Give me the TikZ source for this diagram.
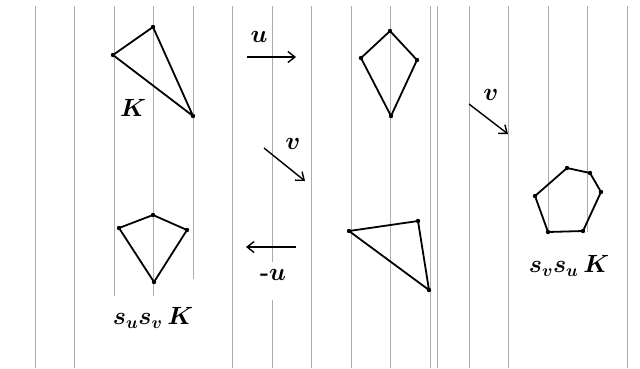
\documentclass[tikz,border=0pt]{standalone}
\usetikzlibrary{arrows.meta}
\begin{document}
\begin{tikzpicture}[x=1pt,y=-1pt]
   \tikzstyle{every node}=[font=\fontsize{24}{26}\selectfont\boldmath]
   \tikzstyle{rule}=[gray!65,line width=0.8pt]
   \tikzstyle{edge}=[line width=1.8pt,line join=round]
   \tikzstyle{vx}=[circle,fill,inner sep=0pt,minimum size=4.4pt]
   \tikzstyle{move}=[line width=1.4pt,-{Straight Barb[length=7pt,width=11pt]}]
   \useasboundingbox (0,0) rectangle (640,368);

   \foreach \x in {35,74,232,311,351,390,430,437,469,508,627} \draw [rule] (\x,6) -- (\x,368);
   \foreach \x/\y in {114/296,153/296,193/279,548/232,587/232} \draw [rule] (\x,6) -- (\x,\y);
   \draw [rule] (272,6) -- (272,262) (272,300) -- (272,368);

   \node (k1) [vx] at (113,55) {};
   \node (k2) [vx] at (153,27) {};
   \node (k3) [vx] at (193,116) {};
   \draw [edge] (k1.center) -- (k2.center) -- (k3.center) -- cycle;
   \node (lk) at (133,108) {$K$};

   \coordinate (u0) at (247,57);
   \coordinate (u1) at (296,57);
   \draw [move] (u0) -- (u1);
   \node (lu) at (259,37) {$u$};

   \node (a1) [vx] at (390,31) {};
   \node (a2) [vx] at (361,58) {};
   \node (a3) [vx] at (391,116) {};
   \node (a4) [vx] at (417,60) {};
   \draw [edge] (a1.center) -- (a2.center) -- (a3.center) -- (a4.center) -- cycle;

   \coordinate (v0) at (469,104);
   \coordinate (v1) at (508,134);
   \draw [move] (v0) -- (v1);
   \node (lv) at (491,95) {$v$};

   \coordinate (w0) at (264,148);
   \coordinate (w1) at (305,181);
   \draw [move] (w0) -- (w1);
   \node (lw) at (293,144) {$v$};

   \node (p1) [vx] at (535,196) {};
   \node (p2) [vx] at (567,168) {};
   \node (p3) [vx] at (590,173) {};
   \node (p4) [vx] at (601,192) {};
   \node (p5) [vx] at (583,231) {};
   \node (p6) [vx] at (548,232) {};
   \draw [edge] (p1.center) -- (p2.center) -- (p3.center) -- (p4.center) -- (p5.center) -- (p6.center) -- cycle;
   \node (lvu) at (569,266) {$s_v s_u\,K$};

   \node (b1) [vx] at (349,231) {};
   \node (b2) [vx] at (418,221) {};
   \node (b3) [vx] at (429,290) {};
   \draw [edge] (b1.center) -- (b2.center) -- (b3.center) -- cycle;

   \coordinate (m0) at (296,247);
   \coordinate (m1) at (246,247);
   \draw [move] (m0) -- (m1);
   \node (lm) at (273,275) {\textbf{-}$u$};

   \node (c1) [vx] at (153,215) {};
   \node (c2) [vx] at (119,228) {};
   \node (c3) [vx] at (154,282) {};
   \node (c4) [vx] at (187,230) {};
   \draw [edge] (c1.center) -- (c2.center) -- (c3.center) -- (c4.center) -- cycle;
   \node (luv) at (153,318) {$s_u s_v\,K$};

\end{tikzpicture}
\end{document}
